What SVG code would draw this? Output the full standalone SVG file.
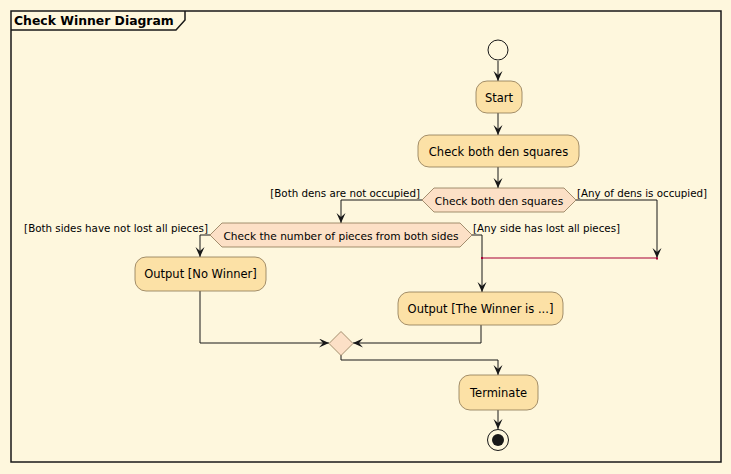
<svg xmlns="http://www.w3.org/2000/svg" width="731" height="474" viewBox="0 0 731 474">
<style>
.act{fill:#FCE1A6;stroke:#8C7654;stroke-width:0.8}
.dia{fill:#FCE0C6;stroke:#8C7654;stroke-width:0.8}
.t{font-family:"DejaVu Sans","Liberation Sans",sans-serif;font-size:11.5px;fill:#000;text-anchor:middle}
.d{font-family:"DejaVu Sans","Liberation Sans",sans-serif;font-size:10.6px;fill:#000}
.l{font-family:"DejaVu Sans","Liberation Sans",sans-serif;font-size:10.3px;fill:#000}
.c{fill:none;stroke:#181818;stroke-width:1}
</style>
<defs>
<marker id="ah" markerUnits="userSpaceOnUse" markerWidth="11" markerHeight="10" refX="10" refY="4.5" orient="auto">
<path d="M0,0 L10,4.5 L0,9 L4,4.5 Z" fill="#181818"/>
</marker>
</defs>
<rect x="0" y="0" width="731" height="474" fill="#FEF7DD"/>
<g id="frame">
<rect x="11" y="11" width="710" height="451" fill="none" stroke="#181818" stroke-width="1.5"/>
<path d="M11,30 L176,30 L185,20 L185,11" fill="none" stroke="#181818" stroke-width="1.5"/>
<text x="14" y="25" font-family="DejaVu Sans,Liberation Sans,sans-serif" font-size="12.4px" font-weight="bold">Check Winner Diagram</text>
</g>
<g id="connectors">
<path class="c" d="M498,61 L498,81" marker-end="url(#ah)"/>
<path class="c" d="M498,113 L498,135" marker-end="url(#ah)"/>
<path class="c" d="M498,167 L498,188" marker-end="url(#ah)"/>
<path class="c" d="M422,200 L341,200 L341,223" marker-end="url(#ah)"/>
<path class="c" d="M576,200 L657,200 L657,258" marker-end="url(#ah)"/>
<path class="c" d="M210,235 L200,235 L200,257" marker-end="url(#ah)"/>
<path class="c" d="M472,235 L482,235 L482,258"/>
<path class="c" d="M482,258 L482,292" marker-end="url(#ah)"/>
<path class="c" d="M200,291 L200,343 L329,343" marker-end="url(#ah)"/>
<path class="c" d="M481,325 L481,343 L353,343" marker-end="url(#ah)"/>
<path class="c" d="M341,355 L341,360 L498,360 L498,375" marker-end="url(#ah)"/>
<path class="c" d="M498,410 L498,429" marker-end="url(#ah)"/>
<line x1="482" y1="258" x2="657" y2="258" stroke="#A80036" stroke-width="1.2"/>
<rect x="481" y="257" width="2" height="2" fill="#A80036"/>
<rect x="656" y="257.5" width="2" height="2" fill="#A80036"/>
<text class="l" x="420" y="197" text-anchor="end">[Both dens are not occupied]</text>
<text class="l" x="577" y="197">[Any of dens is occupied]</text>
<text class="l" x="208" y="232" text-anchor="end">[Both sides have not lost all pieces]</text>
<text class="l" x="473" y="232">[Any side has lost all pieces]</text>
</g>
<g id="start">
<circle cx="498" cy="50" r="10" fill="#FEF7DD" stroke="#181818" stroke-width="1"/>
</g>
<g id="startAct">
<rect class="act" x="476" y="81" width="46" height="32" rx="11"/>
<text class="t" x="499" y="102">Start</text>
</g>
<g id="checkDens">
<rect class="act" x="418" y="135" width="161" height="32" rx="11"/>
<text class="t" x="498.5" y="156">Check both den squares</text>
</g>
<g id="denDecision">
<polygon class="dia" points="422,200 434,188 564,188 576,200 564,212 434,212"/>
<text class="d" x="499" y="205" text-anchor="middle">Check both den squares</text>
</g>
<g id="piecesDecision">
<polygon class="dia" points="210,235 222,223 460,223 472,235 460,247 222,247"/>
<text class="d" x="341" y="239.5" text-anchor="middle">Check the number of pieces from both sides</text>
</g>
<g id="noWinner">
<rect class="act" x="135" y="257" width="131" height="34" rx="11"/>
<text class="t" x="200.5" y="278">Output [No Winner]</text>
</g>
<g id="winner">
<rect class="act" x="398" y="292" width="165" height="33" rx="11"/>
<text class="t" x="480.5" y="313">Output [The Winner is ...]</text>
</g>
<g id="merge">
<polygon class="dia" points="341,331.5 353,343.5 341,355.5 329,343.5"/>
</g>
<g id="terminate">
<rect class="act" x="459" y="375" width="79" height="35" rx="11"/>
<text class="t" x="498.5" y="397">Terminate</text>
</g>
<g id="end">
<circle cx="498" cy="440" r="10.5" fill="#FEF7DD" stroke="#181818" stroke-width="1"/>
<circle cx="498" cy="440" r="6" fill="#181818"/>
</g>
</svg>
